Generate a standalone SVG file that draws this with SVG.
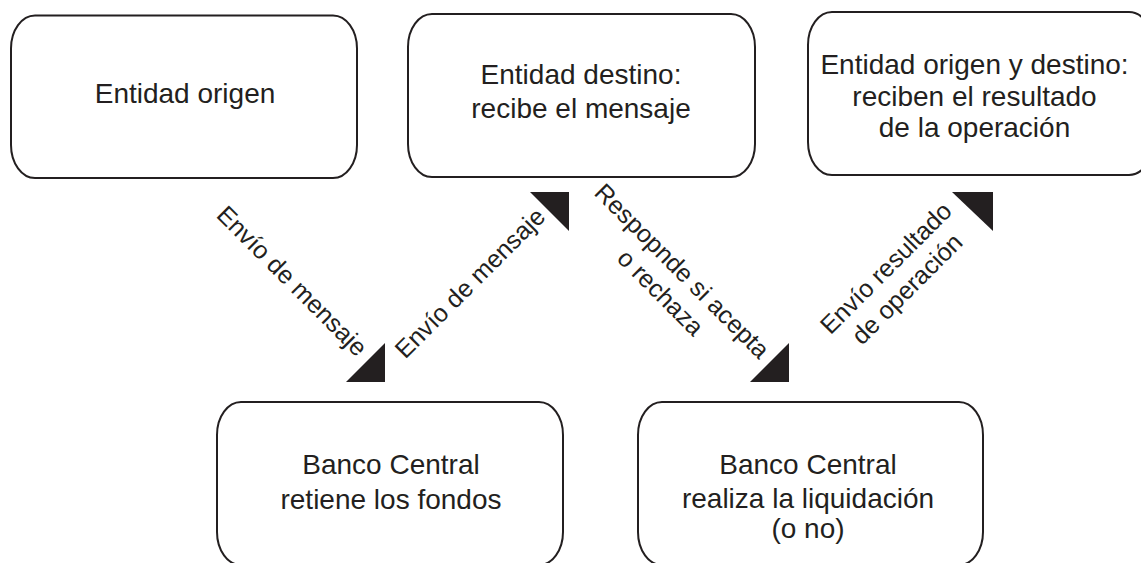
<svg xmlns="http://www.w3.org/2000/svg" width="1141" height="563" viewBox="0 0 1141 563">
<style>
.box{fill:#fff;stroke:#231f20;stroke-width:2}
.t{font-family:"Liberation Sans",Arial,sans-serif;font-size:28px;fill:#231f20;text-anchor:middle}
.l{font-family:"Liberation Sans",Arial,sans-serif;font-size:25px;fill:#231f20;text-anchor:middle}
.ah{fill:#231f20}
</style>
<rect width="1141" height="563" fill="#fff"/>
<g id="node-entidad-origen">
<rect class="box" x="11" y="15.5" width="346" height="162.5" rx="24" ry="33"/>
<text class="t" x="185" y="103">Entidad origen</text>
</g>
<g id="node-entidad-destino">
<rect class="box" x="408" y="14" width="347" height="163" rx="24" ry="33"/>
<text class="t" x="581" y="84">Entidad destino:</text>
<text class="t" x="581" y="118">recibe el mensaje</text>
</g>
<g id="node-origen-destino">
<rect class="box" x="808" y="12" width="345" height="163" rx="24" ry="33"/>
<text class="t" x="974.5" y="74">Entidad origen y destino:</text>
<text class="t" x="974.5" y="106">reciben el resultado</text>
<text class="t" x="974.5" y="137">de la operación</text>
</g>
<g id="node-banco-retiene">
<rect class="box" x="217" y="402" width="346" height="163" rx="24" ry="33"/>
<text class="t" x="391" y="474">Banco Central</text>
<text class="t" x="391" y="509">retiene los fondos</text>
</g>
<g id="node-banco-liquida">
<rect class="box" x="638" y="402" width="345" height="163" rx="24" ry="33"/>
<text class="t" x="808" y="474">Banco Central</text>
<text class="t" x="808" y="508">realiza la liquidación</text>
<text class="t" x="808" y="538">(o no)</text>
</g>
<g id="connectors">
<polygon class="ah" points="385,343 385,382 346,382"/>
<polygon class="ah" points="530,192 569,192 569,231"/>
<polygon class="ah" points="789,343 789,382 750,382"/>
<polygon class="ah" points="952,192 993,192 993,231"/>
<text class="l" transform="translate(286,287) rotate(45)">Envío de mensaje</text>
<text class="l" transform="translate(476,289) rotate(-45)">Envío de mensaje</text>
<text class="l" transform="translate(676,277) rotate(45)">Respopnde si acepta</text>
<text class="l" transform="translate(654.5,298.5) rotate(45)">o rechaza</text>
<text class="l" transform="translate(892,274) rotate(-45)">Envío resultado</text>
<text class="l" transform="translate(913,295) rotate(-45)">de operación</text>
</g>
</svg>
